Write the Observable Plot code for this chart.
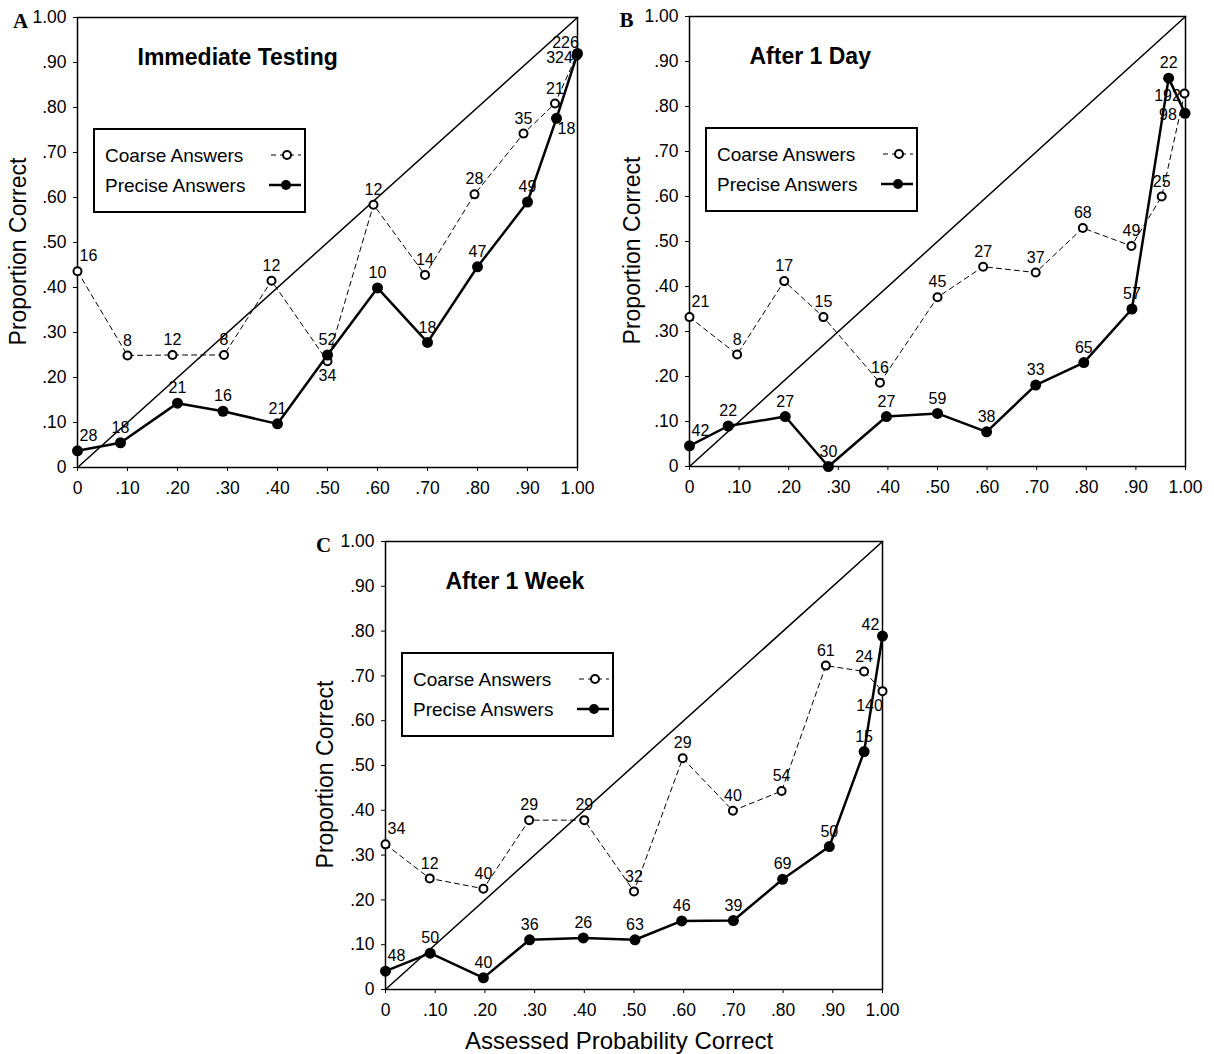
<!DOCTYPE html>
<html>
<head>
<meta charset="utf-8">
<script src="https://cdn.jsdelivr.net/npm/d3@7"></script>
<script src="https://cdn.jsdelivr.net/npm/@observablehq/plot@0.6"></script>
<style>
  body { margin: 0; background: white; }
  #root { position: relative; width: 1214px; height: 1054px; background: white; font-family: "Liberation Sans", Arial, sans-serif; }
  .panel { position: absolute; }
  .legend { position: absolute; }
</style>
</head>
<body>
<div id="root"></div>
<script>
// ---------- data ----------
const tickValues = [0, 0.1, 0.2, 0.3, 0.4, 0.5, 0.6, 0.7, 0.8, 0.9, 1];
const tickLabels = ["0", ".10", ".20", ".30", ".40", ".50", ".60", ".70", ".80", ".90", "1.00"];
const diagonal = [0, 1];

// Panel A: Immediate Testing
const aCoarseX = [0, 0.10, 0.19, 0.293, 0.388, 0.50, 0.592, 0.695, 0.794, 0.892, 0.955, 0.998];
const aCoarseY = [0.436, 0.249, 0.25, 0.25, 0.415, 0.236, 0.584, 0.428, 0.607, 0.742, 0.809, 0.915];
const aCoarseN = [16, 8, 12, 8, 12, 34, 12, 14, 28, 35, 21, 324];
const aPreciseX = [0, 0.086, 0.20, 0.291, 0.40, 0.50, 0.60, 0.70, 0.80, 0.90, 0.958, 1.0];
const aPreciseY = [0.037, 0.055, 0.143, 0.125, 0.097, 0.25, 0.399, 0.278, 0.446, 0.59, 0.776, 0.92];
const aPreciseN = [28, 18, 21, 16, 21, 52, 10, 18, 47, 49, 18, 226];

// Panel B: After 1 Day
const bCoarseX = [0, 0.096, 0.191, 0.27, 0.384, 0.50, 0.592, 0.698, 0.793, 0.891, 0.952, 0.998];
const bCoarseY = [0.332, 0.249, 0.412, 0.332, 0.186, 0.376, 0.444, 0.431, 0.530, 0.490, 0.60, 0.829];
const bCoarseN = [21, 8, 17, 15, 16, 45, 27, 37, 68, 49, 25, 192];
const bPreciseX = [0, 0.078, 0.193, 0.28, 0.397, 0.50, 0.599, 0.698, 0.795, 0.892, 0.966, 0.999];
const bPreciseY = [0.046, 0.09, 0.111, 0.0, 0.111, 0.118, 0.077, 0.181, 0.231, 0.350, 0.863, 0.785];
const bPreciseN = [42, 22, 27, 30, 27, 59, 38, 33, 65, 57, 22, 98];

// Panel C: After 1 Week
const cCoarseX = [0, 0.089, 0.197, 0.289, 0.40, 0.50, 0.598, 0.699, 0.797, 0.886, 0.963, 1.0];
const cCoarseY = [0.324, 0.248, 0.225, 0.378, 0.378, 0.219, 0.516, 0.399, 0.443, 0.723, 0.71, 0.666];
const cCoarseN = [34, 12, 40, 29, 29, 32, 29, 40, 54, 61, 24, 140];
const cPreciseX = [0, 0.09, 0.197, 0.29, 0.398, 0.502, 0.596, 0.70, 0.799, 0.893, 0.963, 1.0];
const cPreciseY = [0.041, 0.081, 0.026, 0.111, 0.115, 0.111, 0.153, 0.154, 0.246, 0.319, 0.531, 0.789];
const cPreciseN = [48, 50, 40, 36, 26, 63, 46, 39, 69, 50, 15, 42];

// label placement (style) for the count labels
const aCoarsePos  = ["ne","n","n","n","n","s","n","n","n","n","n","w"];
const aPrecisePos = ["ne","n","n","n","n","n","n","n","n","n","se","nw"];
const bCoarsePos  = ["ne","n","n","n","n","n","n","n","n","n","n","w"];
const bPrecisePos = ["ne","n","n","n","n","n","n","n","n","n","n","w"];
const cCoarsePos  = ["ne","n","n","n","n","n","n","n","n","n","n","sw"];
const cPrecisePos = ["ne","n","n","n","n","n","n","n","n","n","n","nw"];

// ---------- drawing ----------
const FONT = '"Liberation Sans", Arial, sans-serif';
const offsets = {n: [0, -15], s: [0, 15], ne: [11, -15], w: [-17, 2], se: [10, 11], nw: [-12, -11], sw: [-13, 15]};
const fmt = d => tickLabels[tickValues.findIndex(t => Math.abs(t - d) < 1e-9)];

function rows(xs, ys, ns, pos) {
  return xs.map((x, i) => ({x, y: ys[i], n: ns[i], pos: pos[i]}));
}

function labelMarks(data) {
  return Object.keys(offsets).map(code => Plot.text(data.filter(d => d.pos === code), {
    x: "x", y: "y", text: d => String(d.n), dx: offsets[code][0], dy: offsets[code][1],
    fontSize: 16, fill: "black"
  }));
}

function legendSvg() {
  return `<svg width="213" height="85" xmlns="http://www.w3.org/2000/svg" style="font-family:${FONT.replace(/"/g, "'")}">
    <rect x="1" y="1" width="211" height="83" fill="white" stroke="black" stroke-width="2"/>
    <text x="12" y="27" dominant-baseline="central" font-size="19">Coarse Answers</text>
    <line x1="178" x2="208" y1="27" y2="27" stroke="black" stroke-width="1" stroke-dasharray="5,4"/>
    <circle cx="194" cy="27" r="4" fill="white" stroke="black" stroke-width="2"/>
    <text x="12" y="57" dominant-baseline="central" font-size="19">Precise Answers</text>
    <line x1="176" x2="208" y1="57" y2="57" stroke="black" stroke-width="2.5"/>
    <circle cx="193" cy="57" r="5" fill="black"/>
  </svg>`;
}

function makePanel(cfg) {
  const coarse = rows(cfg.cx, cfg.cy, cfg.cn, cfg.cpos);
  const precise = rows(cfg.px, cfg.py, cfg.pn, cfg.ppos);
  const marks = [
    Plot.frame({stroke: "black", strokeWidth: 1.5}),
    Plot.axisX(tickValues, {tickFormat: fmt, tickSize: 4, tickPadding: 10, fontSize: 17.5, label: null}),
    Plot.axisY(tickValues, {tickFormat: fmt, tickSize: 4, tickPadding: 7, fontSize: 17.5, label: null}),
    Plot.line(diagonal, {x: d => d, y: d => d, stroke: "black", strokeWidth: 1.5}),
    Plot.line(coarse, {x: "x", y: "y", stroke: "black", strokeWidth: 1, strokeDasharray: "5,4"}),
    Plot.line(precise, {x: "x", y: "y", stroke: "black", strokeWidth: 2.5}),
    Plot.dot(coarse, {x: "x", y: "y", r: 4, fill: "white", stroke: "black", strokeWidth: 2}),
    Plot.dot(precise, {x: "x", y: "y", r: 5.5, fill: "black", stroke: "none"}),
    ...labelMarks(coarse),
    ...labelMarks(precise),
    Plot.text([cfg.title], {text: d => d, frameAnchor: "top-left", dx: 60, dy: 40, textAnchor: "start",
      lineAnchor: "middle", fontWeight: "bold", fontSize: 23, fill: "black"}),
    Plot.text(["Proportion Correct"], {text: d => d, frameAnchor: "left", rotate: -90, dx: cfg.yTitleDx, dy: 9,
      textAnchor: "middle", lineAnchor: "middle", fontSize: 23, fill: "black"}),
    Plot.text([cfg.letter], {text: d => d, frameAnchor: "top-left", dx: cfg.letterDx, dy: 4,
      textAnchor: "middle", lineAnchor: "middle",
      fontFamily: '"Liberation Serif", "Times New Roman", serif', fontWeight: "bold", fontSize: 21, fill: "black"})
  ];
  if (cfg.xTitle) {
    marks.push(Plot.text([cfg.xTitle], {text: d => d, frameAnchor: "bottom", dx: -15, dy: 52,
      textAnchor: "middle", lineAnchor: "middle", fontSize: 24, fill: "black"}));
  }
  const svg = Plot.plot({
    width: cfg.width, height: cfg.height,
    marginLeft: cfg.ml, marginTop: cfg.mt, marginRight: cfg.mr, marginBottom: cfg.mb,
    x: {domain: [0, 1]},
    y: {domain: [0, 1]},
    style: {fontFamily: FONT, fontSize: "16px", background: "transparent", color: "black", overflow: "visible"},
    marks
  });
  const wrap = document.createElement("div");
  wrap.className = "panel";
  wrap.style.left = cfg.left + "px";
  wrap.style.top = cfg.top + "px";
  wrap.appendChild(svg);
  document.getElementById("root").appendChild(wrap);

  const leg = document.createElement("div");
  leg.className = "legend";
  leg.style.left = (cfg.left + cfg.ml + 16) + "px";
  leg.style.top = (cfg.top + cfg.mt + 111) + "px";
  leg.innerHTML = legendSvg();
  document.getElementById("root").appendChild(leg);
}

makePanel({left: 0, top: 0, width: 605, height: 515, ml: 77, mt: 17, mr: 28, mb: 48,
  cx: aCoarseX, cy: aCoarseY, cn: aCoarseN, cpos: aCoarsePos,
  px: aPreciseX, py: aPreciseY, pn: aPreciseN, ppos: aPrecisePos,
  title: "Immediate Testing", letter: "A", letterDx: -57, yTitleDx: -59});

makePanel({left: 607, top: 0, width: 607, height: 515, ml: 82, mt: 16, mr: 29, mb: 49,
  cx: bCoarseX, cy: bCoarseY, cn: bCoarseN, cpos: bCoarsePos,
  px: bPreciseX, py: bPreciseY, pn: bPreciseN, ppos: bPrecisePos,
  title: "After 1 Day", letter: "B", letterDx: -63, yTitleDx: -57});

makePanel({left: 300, top: 515, width: 610, height: 539, ml: 85, mt: 26, mr: 28, mb: 65,
  cx: cCoarseX, cy: cCoarseY, cn: cCoarseN, cpos: cCoarsePos,
  px: cPreciseX, py: cPreciseY, pn: cPreciseN, ppos: cPrecisePos,
  title: "After 1 Week", letter: "C", letterDx: -62, yTitleDx: -60,
  xTitle: "Assessed Probability Correct"});
</script>
</body>
</html>
